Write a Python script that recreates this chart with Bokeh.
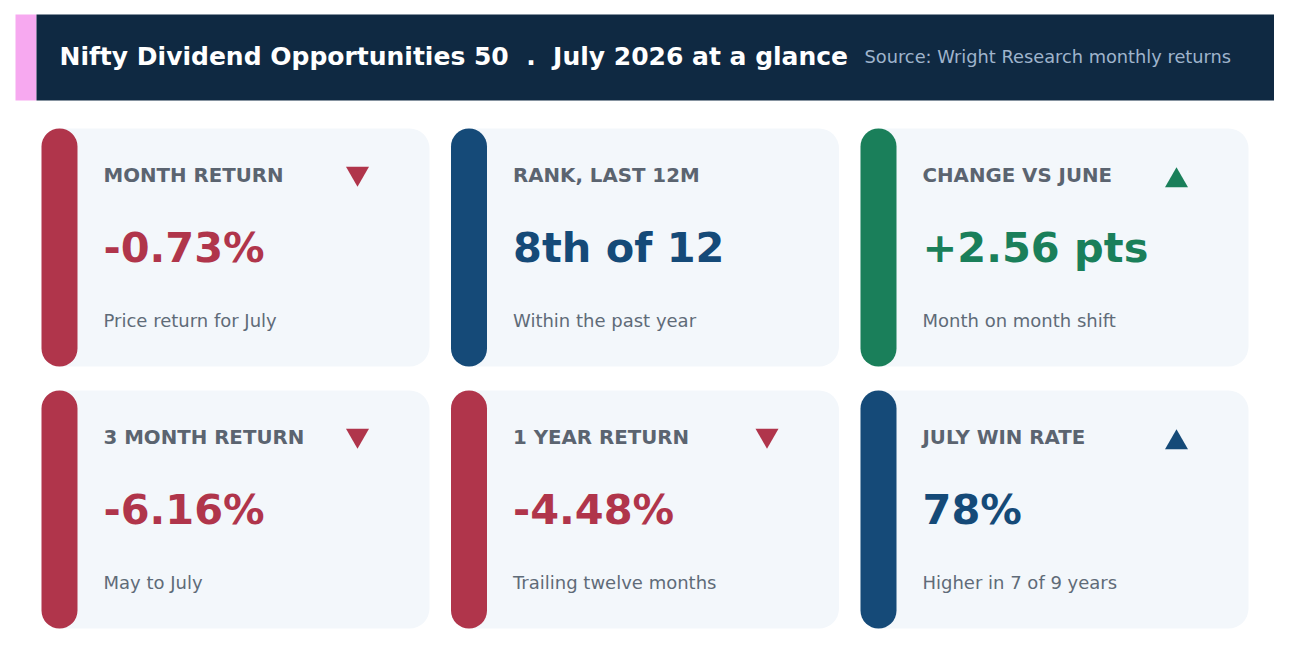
from bokeh.core.properties import value
from bokeh.embed import file_html
from bokeh.models import ColumnDataSource, Range1d
from bokeh.plotting import figure
from bokeh.resources import INLINE

# card data, in reading order (row by row)
labels = ["MONTH RETURN", "RANK, LAST 12M", "CHANGE VS JUNE",
          "3 MONTH RETURN", "1 YEAR RETURN", "JULY WIN RATE"]
values = ["-0.73%", "8th of 12", "+2.56 pts", "-6.16%", "-4.48%", "78%"]
notes = ["Price return for July", "Within the past year", "Month on month shift",
         "May to July", "Trailing twelve months", "Higher in 7 of 9 years"]
tones = ["down", "neutral", "up", "down", "down", "neutral"]
arrows = ["down", None, "up", "down", "down", "up"]

# non-breaking spaces keep the wide gap around the dot in svg text
title = "Nifty Dividend Opportunities 50 \u00a0.\u00a0 July 2026 at a glance"
source = "Source: Wright Research monthly returns"

tone_colors = {"down": "#b0354b", "neutral": "#154a78", "up": "#1a7f5a"}
FONT = value("DejaVu Sans")

W, H = 1274, 643
p = figure(width=W, height=H, output_backend="svg", toolbar_location=None,
           x_range=Range1d(0, W), y_range=Range1d(H, 0),
           min_border=0, outline_line_color=None)
p.axis.visible = False
p.grid.visible = False
p.background_fill_color = "white"
p.border_fill_color = "white"

# header band
p.quad(left=[15], right=[36], top=[14], bottom=[100], fill_color="#f7a9f0", line_color=None)
p.quad(left=[36], right=[1275], top=[14], bottom=[100], fill_color="#0f2942", line_color=None)
p.text(x=[59], y=[56], text=[title], text_font=FONT, text_font_style="bold",
       text_font_size="25px", text_color="white", text_baseline="middle")
p.text(x=[864], y=[56], text=[source], text_font=FONT, text_font_size="17.8px",
       text_color="#9fb4cc", text_baseline="middle")

# card grid layout
x0 = [41 + (i % 3) * 409.5 for i in range(len(labels))]
y0 = [128 + (i // 3) * 262 for i in range(len(labels))]
cw, ch = 388, 238
colors = [tone_colors[t] for t in tones]

src = ColumnDataSource(dict(
    left=x0, right=[x + cw for x in x0], top=y0, bottom=[y + ch for y in y0],
    bar_right=[x + 36 for x in x0],
    tx=[x + 62 for x in x0], ly=[y + 47 for y in y0], vy=[y + 119 for y in y0],
    ny=[y + 192 for y in y0],
    label=labels, value=values, note=notes, color=colors,
))

p.quad(left="left", right="right", top="top", bottom="bottom", source=src,
       fill_color="#f3f7fb", line_color=None, border_radius=20)
p.quad(left="left", right="bar_right", top="top", bottom="bottom", source=src,
       fill_color="color", line_color=None, border_radius=18)

p.text(x="tx", y="ly", text="label", source=src, text_font=FONT, text_font_style="bold",
       text_font_size="19.8px", text_color="#5b6470", text_baseline="middle")
p.text(x="tx", y="vy", text="value", source=src, text_font=FONT, text_font_style="bold",
       text_font_size="41.5px", text_color="color", text_baseline="middle")
p.text(x="tx", y="ny", text="note", source=src, text_font=FONT,
       text_font_size="18px", text_color="#5f6b78", text_baseline="middle")

# direction arrows
idx = [i for i, a in enumerate(arrows) if a]
ax = [x0[i] + 316 for i in idx]
ay = [y0[i] + (45 if arrows[i] == "down" else 52) for i in idx]
am = ["inverted_triangle" if arrows[i] == "down" else "triangle" for i in idx]
ac = [colors[i] for i in idx]
p.scatter(x=ax, y=ay, marker=am, size=23, fill_color=ac, line_color=None)

open("out.html", "w").write(file_html(p, INLINE))
